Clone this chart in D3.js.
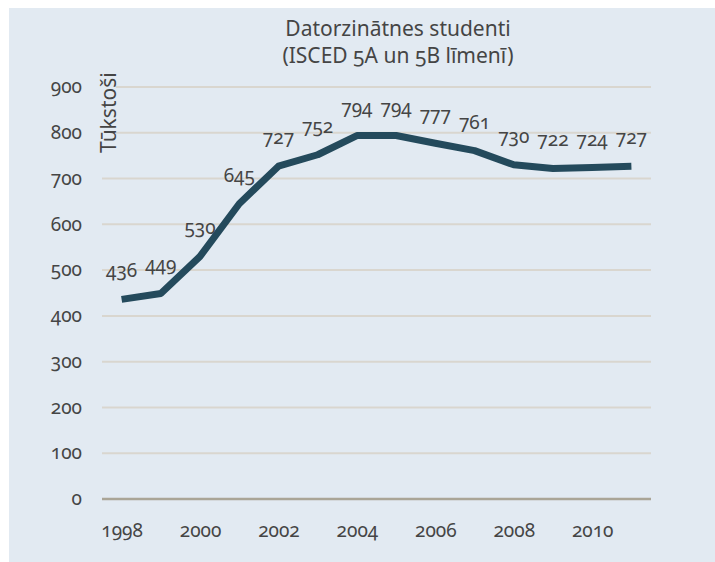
<!DOCTYPE html>
<html>
<head>
<meta charset="utf-8">
<script src="https://cdn.jsdelivr.net/npm/d3@7"></script>
<style>
  html, body { margin: 0; padding: 0; background: #ffffff; }
  svg { display: block; }
  text { font-family: "Noto Sans", "Open Sans", sans-serif; fill: #454545; }
  .num { font-variant-numeric: oldstyle-nums; font-feature-settings: "onum" 1; }
</style>
</head>
<body>
<svg id="chart" width="715" height="562"></svg>
<script>
// ---- data ----
const years = [1998, 1999, 2000, 2001, 2002, 2003, 2004, 2005, 2006, 2007, 2008, 2009, 2010, 2011];
const students = [436, 449, 530, 645, 727, 752, 794, 794, 777, 761, 730, 722, 724, 727];
const yTicks = [0, 100, 200, 300, 400, 500, 600, 700, 800, 900];
const xTickYears = [1998, 2000, 2002, 2004, 2006, 2008, 2010];
const titleLines = ["Datorzinātnes studenti", "(ISCED 5A un 5B līmenī)"];
const yAxisTitle = "Tūkstoši";

// ---- layout ----
const W = 715, H = 562;
const plot = { left: 102, right: 651, top: 87, bottom: 499 };
const bg = "#e2eaf2";
const numSize = "19px";

const svg = d3.select("#chart");

svg.append("rect")
  .attr("x", 9).attr("y", 8)
  .attr("width", W - 9).attr("height", H - 8)
  .attr("fill", bg);

const x = d3.scalePoint()
  .domain(years)
  .range([plot.left, plot.right])
  .padding(0.5);

const y = d3.scaleLinear()
  .domain([0, 900])
  .range([plot.bottom, plot.top]);

// gridlines
svg.append("g")
  .selectAll("line")
  .data(yTicks)
  .join("line")
  .attr("x1", plot.left).attr("x2", plot.right)
  .attr("y1", d => y(d)).attr("y2", d => y(d))
  .attr("stroke", d => d === 0 ? "#aaa597" : "#d9d6cf")
  .attr("stroke-width", d => d === 0 ? 2.5 : 2);

// y axis labels
const yAxis = d3.axisLeft(y).tickValues(yTicks).tickSize(0).tickPadding(20);
const yg = svg.append("g").attr("transform", `translate(${plot.left},0)`).call(yAxis);
yg.select(".domain").remove();
yg.selectAll("text")
  .attr("class", "num")
  .attr("dy", "0.3em")
  .style("font-size", numSize)
  .style("font-family", "'Noto Sans', sans-serif")
  .attr("fill", "#454545");

// x axis labels
const xAxis = d3.axisBottom(x).tickValues(xTickYears).tickSize(0).tickPadding(0).tickFormat(d3.format("d"));
const xg = svg.append("g").attr("transform", `translate(0,${plot.bottom})`).call(xAxis);
xg.select(".domain").remove();
xg.selectAll("text")
  .attr("class", "num")
  .attr("y", 38)
  .attr("dy", 0)
  .style("font-size", numSize)
  .style("font-family", "'Noto Sans', sans-serif")
  .attr("fill", "#454545");

// line
const line = d3.line()
  .x((d, i) => x(years[i]))
  .y(d => y(d));

svg.append("path")
  .datum(students)
  .attr("d", line)
  .attr("fill", "none")
  .attr("stroke", "#244a5c")
  .attr("stroke-width", 7)
  .attr("stroke-linejoin", "round");

// data labels
svg.append("g")
  .selectAll("text")
  .data(students)
  .join("text")
  .attr("class", "num")
  .attr("x", (d, i) => x(years[i]))
  .attr("y", d => y(d) - 22)
  .attr("text-anchor", "middle")
  .style("font-size", numSize)
  .text(d => d);

// y-axis title with background patch
const ytX = 116, ytY = 153;
svg.append("rect")
  .attr("x", 99).attr("y", 74)
  .attr("width", 17).attr("height", 82)
  .attr("fill", bg);
svg.append("text")
  .attr("transform", `translate(${ytX},${ytY}) rotate(-90)`)
  .attr("text-anchor", "start")
  .style("font-size", "21px")
  .text(yAxisTitle);

// title
svg.append("g")
  .selectAll("text")
  .data(titleLines)
  .join("text")
  .attr("class", "num")
  .attr("x", 398)
  .attr("y", (d, i) => 36 + i * 27)
  .attr("text-anchor", "middle")
  .style("font-size", "21px")
  .text(d => d);
</script>
</body>
</html>
